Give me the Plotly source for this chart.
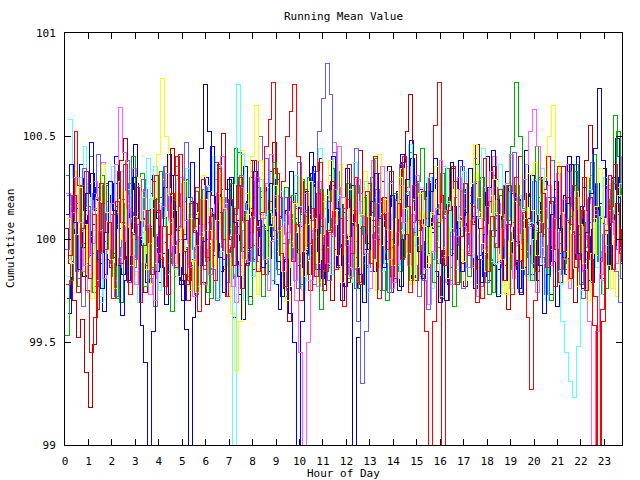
import plotly.graph_objects as go

# sample times: every 10 minutes through the day
MINUTES = list(range(0, 1440, 10))

X_TICKS = list(range(0, 24))
Y_TICKS = [99, 99.5, 100, 100.5, 101]

red_a = [
    99.92, 100.21, 99.74, 100.05, 100.33, 99.81, 100.12, 99.66, 100.27, 99.95, 100.08, 99.71,
    100.18, 99.88, 100.36, 99.79, 100.02, 100.25, 99.69, 99.97, 100.14, 99.83, 100.31, 99.9,
    100.06, 99.73, 100.22, 99.86, 100.41, 99.94, 99.78, 100.17, 100.03, 99.65, 100.29, 99.91,
    100.11, 99.8, 100.34, 100.0, 99.72, 100.19, 99.87, 100.26, 99.76, 100.09, 99.96, 100.38,
    99.84, 100.13, 100.45, 100.58, 100.76, 100.32, 99.93, 99.77, 100.2, 99.89, 100.07, 99.7,
    100.24, 99.98, 100.15, 99.82, 100.37, 99.75, 100.04, 100.28, 99.85, 100.1, 99.67, 100.19,
    99.93, 100.3, 99.79, 100.06, 100.23, 99.88, 100.4, 99.71, 100.12, 99.95, 100.33, 99.81,
    100.17, 99.9, 100.02, 99.74, 100.26, 100.09, 99.83, 99.55, 98.3, 99.6, 100.08, 100.21,
    99.87, 100.14, 100.35, 99.78, 100.01, 100.27, 99.92, 100.16, 99.69, 100.05, 100.39, 99.84,
    100.11, 99.96, 100.24, 99.8, 100.07, 99.73, 100.3, 99.89, 100.13, 99.62, 99.27, 99.7,
    100.03, 100.22, 99.86, 100.18, 99.77, 100.35, 99.94, 100.09, 99.81, 100.26, 99.9, 100.14,
    99.75, 100.2, 99.58, 98.0, 99.66, 100.04, 100.31, 99.85, 100.17, 99.93, 100.42, 99.79,
]

darkred = [
    100.05, 99.88, 99.7, 99.52, 99.61, 99.35, 99.18, 99.49, 99.82, 100.1, 100.27, 100.04,
    99.91, 100.16, 100.38, 100.49, 100.2, 99.97, 100.11, 99.85, 99.74, 100.02, 100.29, 100.13,
    99.86, 99.99, 100.25, 100.44, 100.31, 100.06, 99.83, 99.7, 99.9, 100.17, 100.03, 99.79,
    99.68, 99.94, 100.12, 100.36, 100.51, 100.24, 100.0, 99.81, 100.09, 100.22, 99.96, 99.72,
    99.85, 100.14, 100.07, 99.88, 100.33, 100.47, 100.19, 99.92, 99.76, 99.6, 99.89, 100.15,
    100.28, 100.05, 99.83, 99.97, 100.21, 100.39, 100.1, 99.87, 99.7, 99.95, 100.18, 100.02,
    99.79, 99.93, 100.26, 100.43, 100.17, 99.98, 99.84, 100.06, 100.32, 100.13, 99.9, 99.74,
    99.88, 100.11, 100.37, 100.52, 100.7, 100.41, 100.08, 99.86, 99.99, 100.23, 100.05, 99.82,
    99.71, 99.95, 100.2, 100.34, 100.12, 99.89, 99.77, 100.01, 100.25, 100.46, 100.18, 99.93,
    99.8, 100.04, 100.29, 100.1, 99.87, 99.66, 99.91, 100.15, 100.4, 100.22, 99.97, 99.83,
    100.07, 100.3, 100.14, 99.9, 99.73, 99.96, 100.19, 100.35, 100.08, 99.85, 99.69, 99.94,
    100.16, 100.38, 100.55, 100.27, 100.03, 99.81, 99.92, 100.13, 100.3, 100.06, 99.88, 100.1,
]

green_a = [
    99.53, 99.8, 100.09, 99.92, 100.26, 100.15, 99.87, 99.74, 100.03, 100.31, 100.18, 99.95,
    99.82, 100.07, 99.69, 99.9, 100.22, 100.4, 100.13, 99.98, 99.77, 100.05, 99.86, 100.19,
    100.33, 100.1, 99.84, 99.65, 99.93, 100.16, 100.02, 100.29, 99.96, 99.75, 100.08, 100.24,
    99.89, 99.71, 100.04, 100.35, 100.2, 99.94, 99.81, 100.12, 100.42, 100.17, 99.9, 99.68,
    99.97, 100.25, 100.06, 99.83, 100.14, 100.37, 100.09, 99.88, 99.72, 100.0, 100.21, 99.95,
    99.78, 100.11, 100.3, 100.03, 99.85, 99.66, 99.94, 100.18, 100.34, 100.07, 99.92, 100.15,
    100.27, 99.99, 99.76, 100.05, 100.2, 99.87, 100.13, 100.39, 100.1, 99.84, 99.7, 99.96,
    100.22, 100.08, 99.91, 100.16, 99.8, 100.03, 100.28, 100.44, 100.19, 99.93, 99.79, 100.06,
    100.32, 100.12, 99.86, 99.67, 99.98, 100.23, 100.05, 99.82, 100.1, 100.36, 100.14, 99.9,
    99.73, 100.01, 100.17, 99.95, 100.26, 100.09, 100.45, 100.76, 100.5, 100.15, 99.92, 99.8,
    100.04, 100.29, 100.13, 99.88, 99.7, 99.97, 100.2, 100.06, 99.85, 100.11, 100.33, 100.02,
    99.79, 99.94, 100.24, 100.41, 100.16, 99.91, 99.76, 100.08, 100.27, 100.52, 100.2, 99.97,
]

blue_a = [
    100.12, 100.36, 100.08, 99.85, 99.96, 100.22, 100.47, 100.19, 99.9, 99.76, 100.03, 100.28,
    100.14, 99.87, 99.63, 99.8, 100.05, 100.3, 100.11, 99.58, 99.4, 98.2, 99.55, 99.84,
    100.06, 100.25, 100.41, 100.18, 99.93, 99.78, 100.0, 100.2, 100.37, 100.1, 99.87, 99.99,
    100.23, 100.45, 100.17, 99.91, 99.74, 100.02, 100.3, 100.08, 99.82, 99.61, 99.88, 100.15,
    100.33, 100.09, 99.86, 100.04, 100.27, 100.13, 99.89, 99.72, 99.9, 99.64, 99.5, 98.0,
    99.6, 99.93, 100.16, 100.35, 100.12, 99.85, 99.97, 100.24, 100.4, 100.15, 99.92, 99.77,
    100.01, 100.26, 100.07, 99.83, 99.69, 99.95, 100.18, 100.32, 100.1, 99.86, 100.04, 100.21,
    99.98, 99.75, 100.0, 100.29, 100.48, 100.2, 99.94, 99.81, 100.06, 100.23, 100.39, 100.12,
    99.88, 99.7, 99.92, 100.16, 100.05, 99.84, 100.13, 100.34, 100.11, 99.9, 99.79, 100.02,
    100.25, 100.43, 100.19, 99.96, 99.8, 100.07, 100.22, 99.99, 99.73, 99.86, 100.1, 100.31,
    100.08, 99.87, 99.64, 99.83, 100.12, 100.28, 100.05, 99.91, 100.17, 100.36, 100.14, 99.93,
    99.76, 100.03, 100.22, 100.44, 100.73, 100.38, 100.1, 99.85, 99.97, 100.2, 100.06, 99.82,
]

darkblue = [
    99.71, 99.94, 100.17, 100.03, 99.82, 100.09, 100.32, 100.14, 99.88, 99.65, 99.9, 100.12,
    100.27, 100.05, 99.83, 100.0, 100.24, 100.46, 100.2, 99.97, 99.79, 100.06, 100.31, 100.1,
    99.86, 99.68, 99.95, 100.19, 100.04, 99.8, 99.56, 98.1, 99.62, 100.12, 100.44, 100.75,
    100.52, 100.21, 99.98, 99.84, 100.07, 100.29, 100.13, 99.89, 99.73, 99.96, 100.18, 100.38,
    100.15, 99.92, 100.06, 100.25, 100.01, 99.78, 99.66, 99.91, 100.14, 100.33, 100.1, 99.87,
    100.02, 100.23, 100.42, 100.17, 99.94, 99.81, 100.08, 100.26, 100.05, 99.86, 99.7, 99.99,
    100.2, 98.3, 99.52, 99.78, 99.95, 100.11, 100.3, 100.07, 99.88, 100.13, 100.35, 100.16,
    99.93, 99.77, 100.04, 100.21, 100.39, 100.14, 99.91, 100.08, 100.27, 100.03, 99.84, 99.69,
    99.95, 100.18, 100.37, 100.12, 99.9, 100.06, 100.24, 99.99, 99.76, 99.92, 100.15, 100.4,
    100.11, 99.87, 99.72, 100.0, 100.26, 100.09, 99.85, 100.02, 100.19, 100.43, 100.16, 99.94,
    99.8, 100.05, 100.28, 100.1, 99.89, 99.67, 99.93, 100.21, 100.4, 100.13, 99.9, 100.07,
    100.25, 100.01, 99.79, 99.96, 100.17, 100.34, 100.08, 99.86, 100.12, 100.3, 100.05, 99.91,
]

slateblue = [
    100.21, 100.02, 99.84, 100.1, 100.34, 100.16, 99.93, 99.77, 100.05, 100.26, 100.09, 99.88,
    99.72, 99.96, 100.19, 100.38, 100.13, 99.9, 100.07, 100.29, 100.04, 99.81, 99.67, 99.92,
    100.14, 100.35, 100.11, 99.87, 99.99, 100.22, 100.47, 100.2, 99.95, 99.78, 100.03, 100.25,
    100.08, 99.85, 99.7, 99.94, 100.17, 100.01, 99.82, 100.06, 100.31, 100.12, 99.89, 100.1,
    100.28, 100.5, 100.23, 99.97, 99.8, 100.04, 100.2, 99.98, 99.75, 99.91, 100.16, 100.37,
    100.13, 99.9, 100.09, 100.33, 100.52, 100.68, 100.85, 100.7, 100.42, 100.15, 99.96, 99.83,
    100.07, 99.86, 99.6, 99.3, 99.55, 99.84, 100.02, 100.24, 100.11, 99.88, 99.74, 100.0,
    100.19, 100.36, 100.14, 99.93, 100.08, 100.27, 100.05, 99.8, 99.66, 99.9, 100.12, 100.3,
    100.1, 99.87, 100.03, 100.2, 99.97, 99.76, 99.94, 100.17, 100.39, 100.15, 99.92, 99.79,
    100.04, 100.25, 100.09, 99.86, 100.0, 100.23, 100.42, 100.18, 99.95, 99.83, 100.06, 100.28,
    100.12, 99.91, 99.73, 99.97, 100.2, 100.05, 99.85, 100.1, 100.33, 100.16, 99.93, 99.78,
    99.96, 100.19, 100.37, 100.14, 99.89, 100.02, 100.24, 100.08, 99.84, 99.69, 99.95, 100.18,
]

magenta = [
    99.9, 100.13, 100.3, 100.08, 99.87, 99.74, 99.98, 100.2, 100.04, 99.81, 99.95, 100.17,
    100.36, 100.64, 100.42, 100.15, 99.92, 99.78, 100.01, 100.23, 100.07, 99.85, 99.7, 99.93,
    100.16, 100.32, 100.1, 99.88, 100.05, 100.27, 100.09, 99.86, 99.72, 99.97, 100.19, 100.04,
    99.83, 100.0, 100.22, 100.4, 100.14, 99.91, 99.77, 100.02, 100.25, 100.08, 99.89, 100.11,
    100.3, 100.12, 99.9, 99.75, 99.99, 100.21, 100.06, 99.84, 100.03, 100.18, 99.7, 99.45,
    98.2, 99.5, 99.8, 100.05, 100.28, 100.1, 99.88, 100.02, 100.24, 100.45, 100.2, 99.97,
    99.82, 100.06, 100.29, 100.11, 99.93, 99.76, 100.0, 100.17, 100.35, 100.13, 99.9, 99.79,
    100.03, 100.26, 100.08, 99.87, 100.12, 100.31, 100.07, 99.85, 99.68, 99.94, 100.15, 100.38,
    100.14, 99.92, 99.78, 100.01, 100.24, 100.06, 99.86, 100.09, 100.28, 100.1, 99.95, 100.16,
    100.33, 100.11, 99.89, 100.05, 100.27, 100.41, 100.2, 99.98, 100.14, 100.36, 100.52, 100.63,
    100.45, 100.22, 100.05, 99.87, 100.1, 100.32, 100.12, 99.9, 99.76, 100.02, 100.2, 100.06,
    99.85, 99.6, 98.4, 99.55, 99.83, 100.07, 100.26, 100.09, 99.88, 100.0, 100.23, 100.11,
]

cyan = [
    100.58, 100.3, 100.05, 99.86, 100.12, 100.27, 100.04, 99.8, 99.69, 99.93, 100.16, 100.35,
    100.13, 99.91, 100.07, 100.24, 100.02, 99.79, 99.96, 100.2, 100.39, 100.15, 99.88, 99.75,
    99.99, 100.22, 100.08, 99.85, 100.01, 100.19, 100.34, 100.1, 99.9, 99.77, 100.03, 100.26,
    100.11, 99.87, 99.71, 99.94, 100.17, 100.05, 98.1, 100.75, 100.41, 100.14, 99.95, 99.82,
    100.06, 100.29, 100.12, 99.9, 99.78, 100.0, 100.23, 100.08, 99.86, 100.1, 100.31, 100.16,
    99.94, 99.8, 100.03, 100.25, 100.44, 100.18, 99.96, 99.83, 100.07, 100.21, 100.02, 99.88,
    100.15, 100.37, 100.13, 99.92, 99.74, 99.98, 100.2, 100.06, 99.84, 100.01, 100.27, 100.09,
    99.87, 100.04, 100.22, 100.46, 100.19, 99.97, 99.81, 100.05, 100.3, 100.12, 99.9, 99.72,
    99.96, 100.18, 100.03, 99.85, 100.11, 100.33, 100.15, 99.93, 99.78, 100.02, 100.25, 100.07,
    99.89, 100.13, 100.36, 100.1, 99.91, 99.76, 100.0, 100.21, 100.05, 99.82, 100.08, 100.29,
    100.12, 99.88, 99.7, 99.95, 100.17, 99.84, 99.6, 99.45, 99.31, 99.23, 99.48, 99.75,
    100.02, 100.24, 100.08, 99.86, 100.11, 100.3, 100.14, 99.92, 100.06, 100.27, 100.48, 100.2,
]

yellow = [
    100.1, 99.88, 100.02, 100.25, 100.07, 99.83, 99.71, 99.95, 100.18, 100.36, 100.13, 99.9,
    99.76, 100.0, 100.23, 100.06, 99.87, 100.11, 100.3, 100.09, 99.85, 99.98, 100.2, 100.41,
    100.78, 100.5, 100.21, 99.97, 99.82, 100.05, 100.28, 100.1, 99.89, 99.74, 100.01, 100.19,
    100.04, 99.86, 100.09, 100.32, 100.15, 99.93, 99.64, 99.36, 99.6, 99.9, 100.12, 100.4,
    100.65, 100.38, 100.11, 99.91, 100.06, 100.26, 100.04, 99.84, 99.7, 99.96, 100.17, 100.03,
    99.82, 100.07, 100.28, 100.1, 99.88, 100.02, 100.21, 100.38, 100.14, 99.92, 99.79, 100.0,
    100.24, 100.08, 99.86, 100.12, 100.33, 100.11, 99.9, 99.75, 99.97, 100.19, 100.04, 99.87,
    100.1, 100.3, 100.15, 99.93, 99.78, 100.01, 100.22, 100.06, 99.88, 100.13, 100.35, 100.17,
    99.95, 99.81, 100.05, 100.24, 100.09, 99.89, 100.03, 100.27, 100.46, 100.2, 99.98, 99.84,
    100.07, 100.29, 100.12, 99.9, 99.73, 99.99, 100.18, 100.02, 99.85, 100.1, 100.32, 100.14,
    99.92, 100.08, 100.3, 100.5, 100.65, 100.37, 100.13, 99.94, 99.8, 100.04, 100.23, 100.07,
    99.88, 99.7, 99.93, 100.16, 100.34, 100.1, 99.87, 99.76, 100.0, 100.21, 100.05, 99.9,
]

red_b = [
    99.78, 100.09, 100.52, 100.26, 99.98, 99.75, 99.45, 99.62, 99.94, 100.17, 100.03, 99.86,
    100.12, 100.33, 100.08, 99.9, 99.73, 100.0, 100.24, 100.1, 99.87, 100.05, 100.28, 100.14,
    99.91, 99.77, 100.02, 100.19, 100.4, 100.16, 99.94, 99.8, 100.06, 100.25, 100.07, 99.85,
    100.0, 100.21, 100.37, 100.13, 99.9, 99.72, 99.96, 100.15, 100.3, 100.09, 99.87, 100.03,
    100.2, 100.04, 99.83, 99.97, 100.18, 100.34, 100.1, 100.28, 100.5, 100.62, 100.75, 100.4,
    100.12, 99.89, 99.75, 100.0, 100.22, 100.06, 99.84, 100.03, 100.26, 100.11, 99.92, 100.15,
    100.36, 100.14, 99.91, 99.78, 100.02, 100.27, 100.09, 99.86, 100.0, 100.2, 100.05, 99.82,
    99.97, 100.19, 100.4, 100.16, 99.93, 99.8, 100.04, 100.23, 100.1, 100.32, 100.55, 100.76,
    98.5, 99.7, 100.05, 100.28, 100.1, 99.88, 100.02, 100.21, 100.07, 99.85, 99.71, 99.96,
    100.18, 100.35, 100.11, 99.9, 100.05, 100.26, 100.08, 99.87, 99.74, 99.99, 100.22, 100.06,
    99.84, 100.01, 100.24, 100.4, 100.17, 99.95, 99.79, 100.03, 100.2, 100.07, 99.86, 100.1,
    100.3, 100.14, 99.9, 99.72, 98.1, 99.6, 99.93, 100.16, 100.36, 100.12, 99.89, 100.04,
]

green_b = [
    100.31, 100.12, 99.9, 99.77, 100.04, 100.22, 100.4, 100.15, 99.93, 100.08, 100.26, 100.05,
    99.84, 99.71, 99.95, 100.17, 100.03, 99.86, 100.1, 100.32, 100.14, 99.91, 99.79, 100.0,
    100.2, 100.06, 99.88, 100.12, 100.35, 100.18, 99.96, 99.82, 100.05, 100.23, 100.09, 99.87,
    99.74, 99.98, 100.21, 100.07, 99.85, 100.02, 100.27, 100.44, 100.16, 99.94, 100.11, 100.3,
    100.1, 99.89, 99.72, 99.95, 100.19, 100.04, 99.83, 100.06, 100.25, 100.12, 99.9, 100.08,
    100.29, 100.13, 99.92, 99.78, 100.01, 100.24, 100.07, 99.86, 100.1, 100.33, 100.17, 99.95,
    99.81, 100.03, 100.26, 100.09, 99.88, 100.12, 100.3, 100.11, 99.9, 99.75, 99.99, 100.2,
    100.06, 99.84, 100.02, 100.25, 100.42, 100.18, 99.97, 99.83, 100.09, 100.28, 100.1, 99.88,
    100.13, 100.34, 100.16, 99.93, 99.79, 100.04, 100.23, 100.05, 99.87, 100.11, 100.3, 100.09,
    99.9, 99.74, 99.98, 100.21, 100.06, 99.85, 100.03, 100.26, 100.12, 99.91, 100.07, 100.28,
    100.45, 100.2, 99.96, 99.82, 100.05, 100.24, 100.1, 99.88, 100.02, 100.19, 100.36, 100.14,
    99.93, 100.08, 100.3, 100.12, 99.89, 99.73, 99.97, 100.19, 100.6, 100.4, 100.15, 99.94,
]

blue_b = [
    99.64, 99.89, 100.15, 100.36, 100.14, 99.92, 100.07, 100.25, 100.03, 99.83, 99.98, 100.21,
    100.4, 100.16, 99.94, 99.8, 100.03, 100.27, 100.1, 99.88, 100.05, 100.22, 100.01, 99.79,
    99.93, 100.14, 100.31, 100.08, 99.86, 99.7, 99.95, 100.18, 100.04, 99.82, 100.09, 100.3,
    100.15, 99.92, 100.06, 100.24, 100.02, 99.79, 99.62, 99.88, 100.12, 100.35, 100.13, 99.9,
    100.01, 100.2, 100.05, 99.84, 100.07, 100.29, 100.11, 99.89, 99.75, 100.0, 100.22, 100.06,
    99.86, 100.1, 100.32, 100.15, 99.93, 99.78, 100.04, 100.26, 100.08, 99.87, 100.13, 100.34,
    100.12, 99.9, 99.76, 100.02, 100.21, 100.07, 99.84, 100.09, 100.28, 100.06, 99.88, 100.0,
    100.23, 100.41, 100.17, 99.95, 99.81, 100.06, 100.24, 100.02, 99.86, 100.1, 100.29, 100.12,
    99.91, 99.78, 100.03, 100.2, 100.38, 100.14, 99.93, 100.08, 100.27, 100.05, 99.82, 99.97,
    100.17, 100.04, 99.85, 100.11, 100.33, 100.15, 99.9, 99.76, 100.0, 100.22, 100.07, 99.86,
    100.09, 100.3, 100.13, 99.92, 100.06, 100.25, 100.04, 99.83, 99.97, 100.18, 100.4, 100.16,
    99.94, 99.8, 100.05, 100.27, 100.1, 99.87, 100.02, 100.24, 100.49, 100.2, 99.96, 99.58,
]

magenta_b = [
    100.22, 100.05, 100.18, 99.96, 99.84, 99.91, 100.14, 100.28, 100.19, 100.37, 100.1, 99.93,
    99.8, 99.86, 100.07, 99.99, 100.21, 100.34, 100.26, 100.03, 99.88, 99.73, 99.81, 100.02,
    100.11, 100.25, 100.09, 99.94, 100.16, 100.3, 100.21, 99.98, 99.85, 100.06, 99.92, 99.78,
    99.95, 100.13, 100.29, 100.08, 100.2, 99.97, 99.83, 99.69, 99.87, 100.04, 100.17, 100.33,
    100.14, 99.96, 100.1, 100.27, 100.41, 100.2, 100.03, 99.9, 100.12, 99.98, 99.8, 99.93,
    100.08, 100.22, 100.04, 99.87, 99.77, 99.95, 100.15, 100.31, 100.47, 100.25, 100.07, 99.89,
    100.02, 99.85, 99.99, 100.18, 100.06, 100.23, 100.38, 100.16, 99.94, 100.09, 99.9, 99.76,
    99.88, 100.05, 100.19, 100.35, 100.12, 99.97, 99.82, 100.01, 100.2, 100.08, 100.27, 100.1,
    99.91, 99.79, 99.95, 100.13, 100.3, 100.11, 99.96, 100.14, 99.86, 99.72, 99.9, 100.06,
    100.24, 100.4, 100.17, 99.99, 100.12, 99.93, 99.81, 99.97, 100.16, 100.29, 100.05, 99.88,
    99.74, 99.92, 100.1, 100.26, 100.07, 99.89, 100.03, 100.19, 100.36, 100.15, 99.95, 99.84,
    100.0, 100.17, 100.31, 100.12, 99.94, 99.8, 99.97, 100.14, 100.02, 100.25, 100.4, 100.18,
]

cyan_b = [
    99.82, 99.97, 100.11, 100.3, 100.45, 100.2, 100.01, 99.86, 99.72, 99.9, 100.08, 99.95,
    100.15, 100.28, 100.06, 99.92, 100.1, 99.84, 99.69, 99.88, 100.03, 100.19, 100.35, 100.17,
    99.98, 99.83, 100.0, 100.14, 100.29, 100.09, 99.93, 100.12, 99.96, 99.79, 99.91, 100.07,
    100.23, 100.4, 100.21, 100.04, 99.87, 100.02, 100.16, 99.99, 99.84, 99.7, 99.94, 100.1,
    100.26, 100.09, 99.92, 100.13, 100.32, 100.15, 99.97, 99.82, 100.05, 100.21, 100.03, 99.88,
    99.75, 99.96, 100.12, 100.27, 100.08, 99.9, 100.04, 100.23, 100.39, 100.14, 99.98, 100.11,
    99.93, 99.79, 99.95, 100.1, 100.28, 100.07, 99.89, 100.02, 100.18, 100.33, 100.12, 99.94,
    99.81, 100.0, 100.16, 99.98, 99.83, 100.06, 100.25, 100.1, 99.92, 99.76, 99.99, 100.2,
    100.35, 100.17, 100.01, 99.87, 100.04, 100.22, 100.08, 99.91, 100.13, 100.29, 100.44, 100.23,
    100.04, 99.88, 99.73, 99.95, 100.11, 100.27, 100.06, 99.9, 100.09, 99.94, 99.8, 100.0,
    100.18, 100.34, 100.15, 99.97, 100.12, 99.95, 99.78, 99.93, 100.1, 100.26, 100.07, 99.9,
    100.03, 100.21, 100.05, 99.86, 99.73, 99.9, 100.11, 100.29, 100.13, 99.96, 100.08, 100.32,
]

yellow_b = [
    100.16, 100.33, 100.12, 99.95, 100.07, 99.89, 99.76, 99.94, 100.1, 100.24, 100.04, 99.87,
    100.02, 100.19, 100.37, 100.17, 99.98, 99.83, 100.0, 100.14, 99.93, 99.78, 99.96, 100.12,
    100.29, 100.11, 99.91, 100.05, 100.22, 100.06, 99.88, 99.75, 99.93, 100.13, 100.31, 100.15,
    99.97, 99.84, 100.03, 100.2, 100.08, 99.9, 100.1, 100.27, 100.43, 100.22, 100.02, 99.86,
    99.73, 99.9, 100.08, 100.25, 100.11, 99.94, 100.06, 99.88, 99.77, 99.99, 100.16, 100.3,
    100.12, 99.95, 100.09, 99.92, 99.79, 100.01, 100.19, 100.05, 100.22, 100.36, 100.17, 99.97,
    99.86, 100.04, 99.9, 99.71, 99.89, 100.07, 100.25, 100.41, 100.2, 100.03, 99.87, 100.02,
    100.18, 100.34, 100.11, 99.94, 99.81, 99.98, 100.13, 100.0, 99.85, 100.06, 100.24, 100.09,
    99.92, 100.1, 100.28, 100.12, 99.95, 99.8, 99.97, 100.15, 100.32, 100.13, 99.94, 100.07,
    100.21, 100.05, 99.88, 99.74, 99.93, 100.11, 100.27, 100.08, 99.9, 100.04, 100.2, 100.37,
    100.14, 99.96, 99.83, 100.0, 100.18, 100.34, 100.12, 99.91, 100.06, 99.89, 99.77, 99.95,
    100.13, 100.3, 100.1, 99.92, 100.08, 100.26, 100.06, 99.87, 99.72, 99.94, 100.12, 100.28,
]

slateblue_b = [
    99.95, 100.13, 99.98, 99.81, 99.67, 99.88, 100.05, 100.22, 100.41, 100.18, 99.99, 100.12,
    99.93, 99.78, 99.96, 100.11, 100.27, 100.08, 99.91, 100.06, 100.24, 100.04, 99.86, 100.01,
    100.17, 100.35, 100.14, 99.97, 99.82, 100.0, 100.18, 100.03, 99.87, 99.73, 99.92, 100.09,
    100.26, 100.1, 99.94, 100.12, 99.96, 99.79, 99.95, 100.13, 100.3, 100.11, 99.93, 100.06,
    99.89, 100.05, 100.23, 100.39, 100.19, 100.0, 99.85, 100.02, 100.2, 100.07, 99.9, 99.76,
    99.97, 100.14, 100.0, 100.17, 100.33, 100.12, 99.94, 99.8, 100.01, 100.19, 100.04, 99.88,
    100.09, 100.26, 100.44, 100.22, 100.02, 99.86, 100.03, 99.9, 99.75, 99.93, 100.1, 100.28,
    100.08, 99.91, 100.06, 100.23, 100.05, 99.87, 99.72, 99.94, 100.12, 100.3, 100.14, 99.96,
    100.11, 99.95, 99.8, 99.98, 100.16, 100.35, 100.15, 99.97, 100.09, 99.92, 99.77, 99.94,
    100.13, 100.31, 100.1, 99.93, 100.07, 100.25, 100.06, 99.89, 99.74, 99.91, 100.08, 100.24,
    100.05, 99.87, 100.02, 100.2, 100.38, 100.16, 99.98, 99.83, 100.0, 100.17, 100.03, 99.86,
    99.71, 99.9, 100.08, 100.27, 100.1, 99.93, 100.11, 100.29, 100.12, 99.95, 99.81, 100.0,
]

# (values, colour, sampling offset in minutes within each 10-minute slot)
SERIES = [
    (darkred, "#b00000", 0.0),
    (darkblue, "#0000b0", 5.0),
    (green_b, "#00b000", 2.5),
    (blue_b, "#0000ff", 7.5),
    (slateblue_b, "#6060ff", 1.2),
    (cyan_b, "#60ffff", 6.2),
    (magenta_b, "#ff60ff", 3.7),
    (yellow_b, "#ffff00", 8.7),
    (green_a, "#00b000", 0.6),
    (slateblue, "#6060ff", 5.6),
    (red_b, "#ff0000", 3.1),
    (cyan, "#60ffff", 8.1),
    (blue_a, "#0000ff", 1.9),
    (magenta, "#ff60ff", 6.9),
    (yellow, "#ffff00", 4.4),
    (red_a, "#ff0000", 9.4),
]

FONT = "DejaVu Sans Mono"

fig = go.Figure()
for vals, color, off in SERIES:
    n = min(len(vals), len(MINUTES))
    xs = [(m + off) / 60 for m in MINUTES[:n]]
    fig.add_trace(go.Scatter(
        x=xs, y=vals[:n], mode="lines",
        line=dict(color=color, width=1, shape="hv"),
        showlegend=False, hoverinfo="skip",
    ))

axis_common = dict(
    showline=True, linecolor="black", linewidth=1,
    mirror="ticks", ticks="inside", ticklen=6, tickcolor="black", tickwidth=1,
    showgrid=False, zeroline=False,
    tickfont=dict(family=FONT, size=11, color="black"),
)

fig.update_xaxes(range=[0, 23.75], tickvals=X_TICKS, ticklabelstandoff=6, **axis_common)
fig.update_yaxes(range=[99, 101], tickvals=Y_TICKS, ticklabelstandoff=6, **axis_common)

fig.update_layout(
    width=640, height=480,
    margin=dict(l=65, r=18, t=33, b=35),
    plot_bgcolor="white", paper_bgcolor="white",
    title=dict(text="Running Mean Value", x=0.5, xref="paper", y=1 - 16 / 480,
               yanchor="middle", font=dict(family=FONT, size=11, color="black")),
    annotations=[
        dict(text="Hour of Day", x=0.5, y=0, xref="paper", yref="paper",
             xanchor="center", yanchor="middle", yshift=-28, showarrow=False,
             font=dict(family=FONT, size=11, color="black")),
        dict(text="Cumulative mean", x=0, y=0.5, xref="paper", yref="paper",
             xanchor="center", yanchor="middle", xshift=-55, textangle=-90,
             showarrow=False, font=dict(family=FONT, size=11, color="black")),
    ],
)

POST = (
    "document.body.style.margin='0';"
    "document.querySelectorAll('.scatterlayer .js-line').forEach(function(p){"
    "p.setAttribute('shape-rendering','crispEdges');});"
)

fig.write_html("out.html", config={"displayModeBar": False}, post_script=POST)
